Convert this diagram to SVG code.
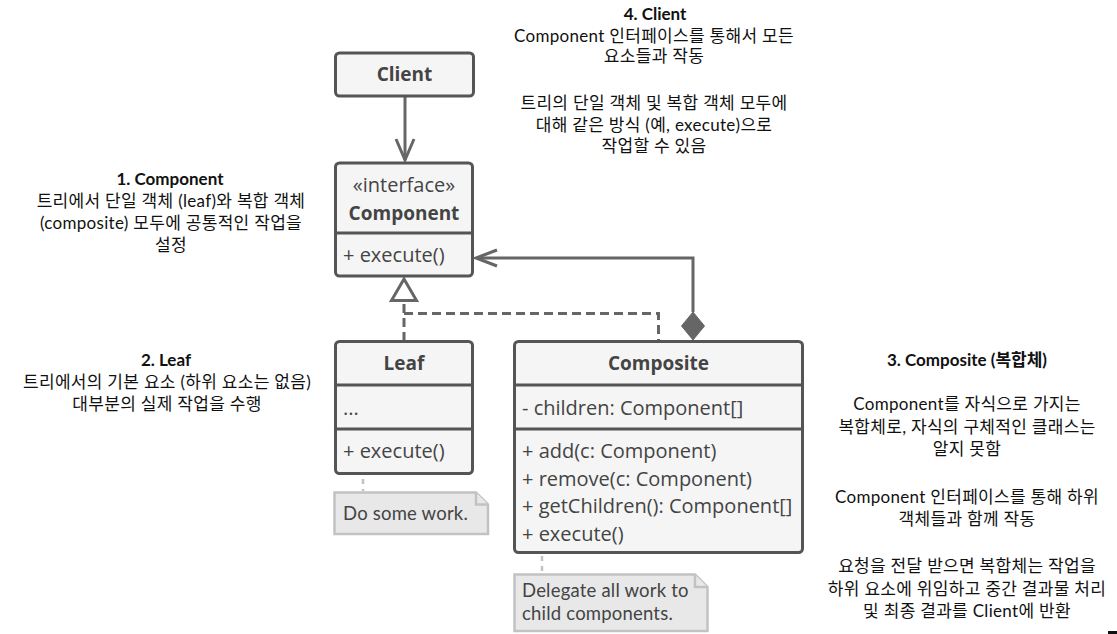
<svg xmlns="http://www.w3.org/2000/svg" width="1117" height="634" viewBox="0 0 1117 634">
<style>
.box{fill:#f5f5f5;stroke:#555;stroke-width:3}
.div{stroke:#555;stroke-width:3}
.t{font-family:"Open Sans","Liberation Sans",sans-serif;font-size:20px;fill:#444}
.tb{font-family:"Open Sans","Liberation Sans",sans-serif;font-size:19px;font-weight:bold;fill:#444}
.note{fill:#e8e8e8;stroke:#c2c2c2;stroke-width:2.5}
.nt{font-family:Lato,"Open Sans",sans-serif;font-size:18.5px;letter-spacing:0.2px;fill:#444}
.ln{fill:none;stroke:#666;stroke-width:3}
.dash{fill:none;stroke:#666;stroke-width:3;stroke-dasharray:9,5}
.ndash{fill:none;stroke:#c2c2c2;stroke-width:2.5;stroke-dasharray:5,5}
.k{font-family:Lato,"Noto Sans CJK KR",sans-serif;font-size:17px;letter-spacing:0.3px;fill:#111;text-anchor:middle}
.kb{font-family:Lato,"Noto Sans CJK KR",sans-serif;font-size:17px;font-weight:bold;fill:#111;text-anchor:middle}
</style>
<rect width="1117" height="634" fill="#ffffff"/>

<g id="connectors">
  <path class="ln" d="M405,96 V160"/>
  <path class="ln" d="M396,139 L405,160 L414,139"/>
  <path class="ln" d="M693,312 V258 H477"/>
  <path class="ln" d="M497,250 L476,258 L497,266"/>
  <path d="M693,312 L704.5,326 L693,340 L681.5,326 Z" fill="#666" stroke="#666" stroke-width="1"/>
  <path class="dash" d="M404,341 V301"/>
  <path class="dash" d="M404,313.5 H658.5 V341"/>
  <path d="M404,279 L416.5,300.5 L391.5,300.5 Z" fill="#ffffff" stroke="#666" stroke-width="3" stroke-linejoin="miter"/>
  <path class="ndash" d="M363,479 V491"/>
  <path class="ndash" d="M542,556 V573"/>
</g>

<g id="client">
  <rect class="box" x="335.5" y="53" width="138" height="43" rx="4"/>
  <text class="tb" x="404.5" y="81" text-anchor="middle">Client</text>
</g>

<g id="component">
  <rect class="box" x="335.5" y="163" width="137" height="113" rx="4"/>
  <line class="div" x1="335.5" y1="233" x2="472.5" y2="233"/>
  <text class="t" x="404" y="191.5" text-anchor="middle">«interface»</text>
  <text class="tb" x="404" y="220" text-anchor="middle">Component</text>
  <text class="t" x="343" y="262">+ execute()</text>
</g>

<g id="leaf">
  <rect class="box" x="335.5" y="341.5" width="137" height="132" rx="4"/>
  <line class="div" x1="335.5" y1="385" x2="472.5" y2="385"/>
  <line class="div" x1="335.5" y1="429" x2="472.5" y2="429"/>
  <text class="tb" x="404" y="370" text-anchor="middle">Leaf</text>
  <text class="t" x="343" y="415">...</text>
  <text class="t" x="343" y="458">+ execute()</text>
</g>

<g id="composite">
  <rect class="box" x="514.5" y="341.5" width="288" height="211" rx="4"/>
  <line class="div" x1="514.5" y1="385" x2="802.5" y2="385"/>
  <line class="div" x1="514.5" y1="429" x2="802.5" y2="429"/>
  <text class="tb" x="658.5" y="370" text-anchor="middle">Composite</text>
  <text class="t" x="522" y="415">- children: Component[]</text>
  <text class="t" x="522" y="458">+ add(c: Component)</text>
  <text class="t" x="522" y="486">+ remove(c: Component)</text>
  <text class="t" x="522" y="513">+ getChildren(): Component[]</text>
  <text class="t" x="522" y="541">+ execute()</text>
</g>

<g id="note-leaf">
  <path class="note" d="M334.5,492.5 H476 L488,504.5 V534 H334.5 Z"/>
  <path class="note" d="M476,492.5 V504.5 H488"/>
  <text class="nt" x="343" y="520">Do some work.</text>
</g>

<g id="note-composite">
  <path class="note" d="M514.5,574.5 H695 L707.5,587 V631 H514.5 Z"/>
  <path class="note" d="M695,574.5 V587 H707.5"/>
  <text class="nt" x="522" y="597">Delegate all work to</text>
  <text class="nt" x="522" y="619.5">child components.</text>
</g>

<g id="label-client">
  <text class="kb" x="655" y="20">4. Client</text>
  <text class="k" x="654" y="41.5">Component 인터페이스를 통해서 모든</text>
  <text class="k" x="654" y="62">요소들과 작동</text>
  <text class="k" x="654" y="109">트리의 단일 객체 및 복합 객체 모두에</text>
  <text class="k" x="654" y="131">대해 같은 방식 (예, execute)으로</text>
  <text class="k" x="654" y="152">작업할 수 있음</text>
</g>

<g id="label-component">
  <text class="kb" x="170" y="185">1. Component</text>
  <text class="k" x="171" y="207">트리에서 단일 객체 (leaf)와 복합 객체</text>
  <text class="k" x="171" y="229">(composite) 모두에 공통적인 작업을</text>
  <text class="k" x="171" y="251">설정</text>
</g>

<g id="label-leaf">
  <text class="kb" x="166" y="366">2. Leaf</text>
  <text class="k" x="167" y="388">트리에서의 기본 요소 (하위 요소는 없음)</text>
  <text class="k" x="167" y="410">대부분의 실제 작업을 수행</text>
</g>

<g id="label-composite">
  <text class="kb" x="967" y="366">3. Composite (복합체)</text>
  <text class="k" x="967" y="410">Component를 자식으로 가지는</text>
  <text class="k" x="967" y="432.5">복합체로, 자식의 구체적인 클래스는</text>
  <text class="k" x="967" y="455">알지 못함</text>
  <text class="k" x="967" y="503">Component 인터페이스를 통해 하위</text>
  <text class="k" x="967" y="525">객체들과 함께 작동</text>
  <text class="k" x="967" y="572">요청을 전달 받으면 복합체는 작업을</text>
  <text class="k" x="967" y="594.5">하위 요소에 위임하고 중간 결과물 처리</text>
  <text class="k" x="967" y="616.5">및 최종 결과를 Client에 반환</text>
</g>

<rect x="1108" y="631" width="9" height="3" fill="#111"/>
</svg>
